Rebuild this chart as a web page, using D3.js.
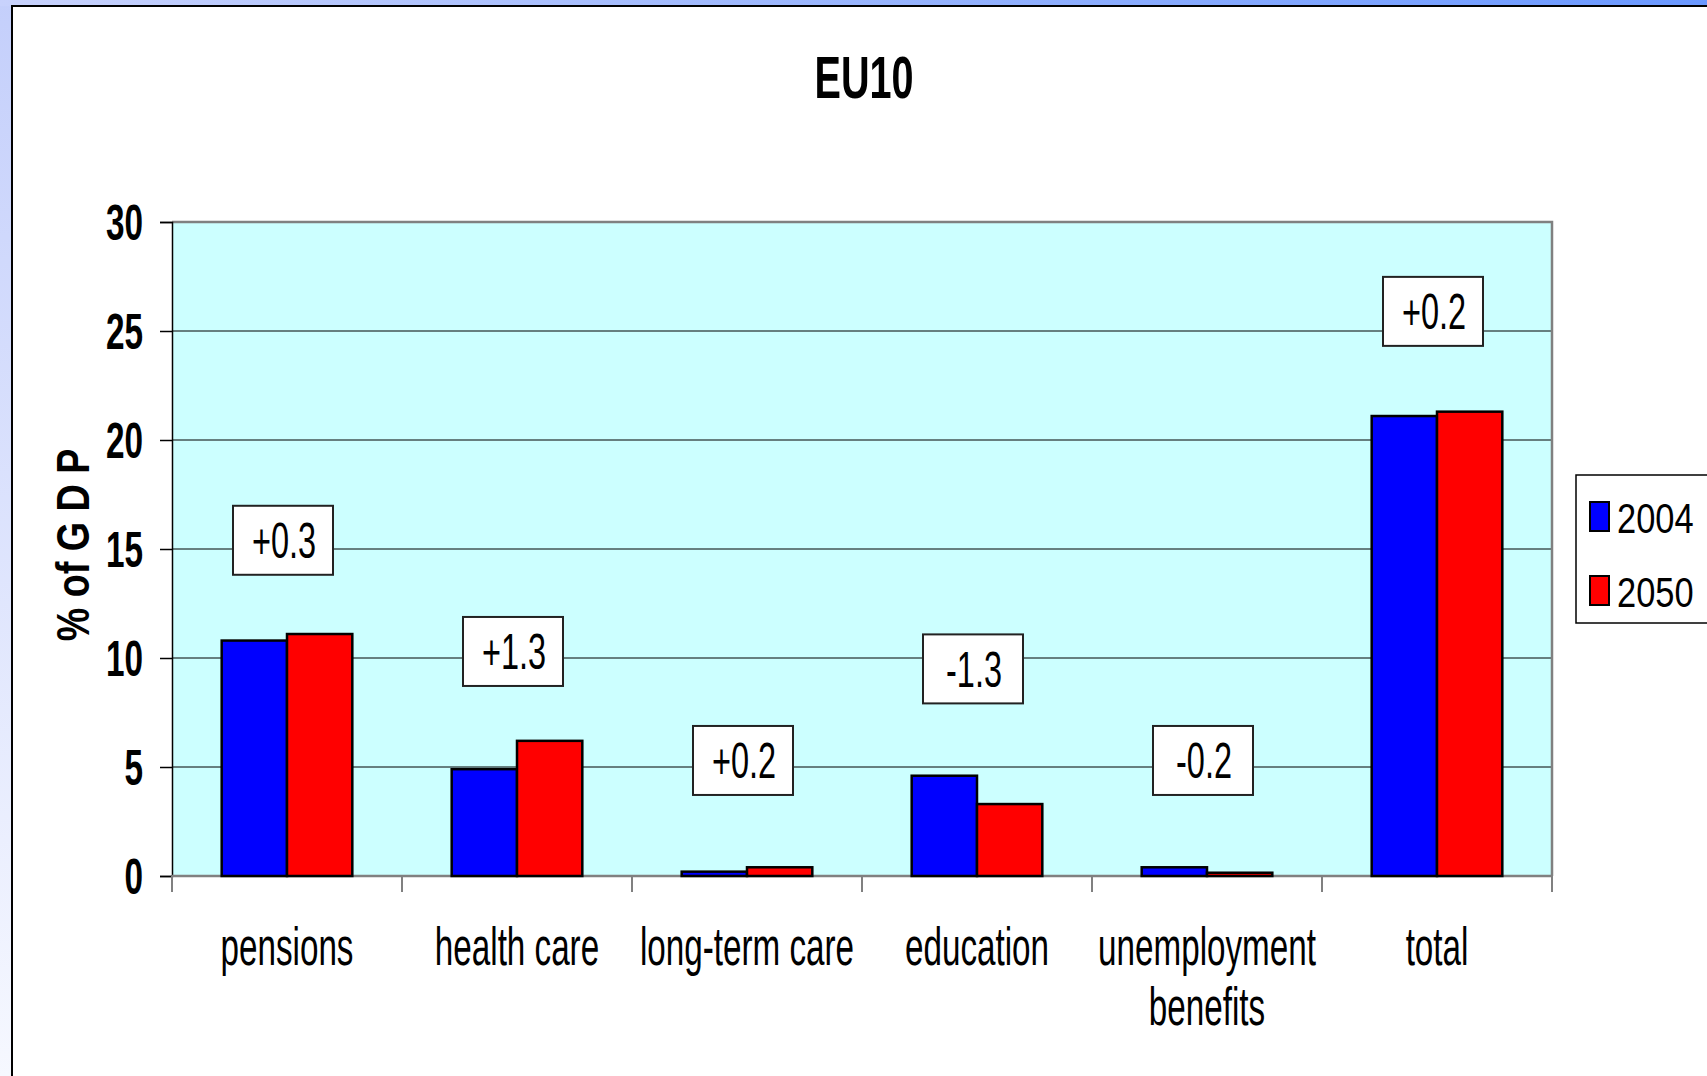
<!DOCTYPE html>
<html>
<head>
<meta charset="utf-8">
<script src="https://cdn.jsdelivr.net/npm/d3@7"></script>
<style>
  body { margin: 0; overflow: hidden; background: #fff; }
  text { font-family: "Liberation Sans", Arial, sans-serif; fill: #000; }
</style>
</head>
<body>
<script>
// data
var categories = ["pensions", "health care", "long-term care", "education", "unemployment benefits", "total"];
var catLines = [["pensions"], ["health care"], ["long-term care"], ["education"], ["unemployment", "benefits"], ["total"]];
var series = ["2004", "2050"];
var values2004 = [10.8, 4.9, 0.2, 4.6, 0.4, 21.1];
var values2050 = [11.1, 6.2, 0.4, 3.3, 0.15, 21.3];
var changeLabels = ["+0.3", "+1.3", "+0.2", "-1.3", "-0.2", "+0.2"];
var changeAnchor = [15.4, 10.3, 5.3, 9.5, 5.3, 25.9]; // value level of box centre
var yTicks = [0, 5, 10, 15, 20, 25, 30];
var colors = ["#0000ff", "#ff0000"];

// dimensions
var width = 1707;
var height = 1076;

var plot = { left: 172, right: 1552, top: 222, bottom: 876 };

var svg = d3.select("body")
    .append("svg")
    .attr("width", width)
    .attr("height", height);

var defs = svg.append("defs");
var gl = defs.append("linearGradient").attr("id", "leftg")
    .attr("x1", 0).attr("y1", 0).attr("x2", 0).attr("y2", 1);
gl.append("stop").attr("offset", "0%").attr("stop-color", "#c4cffb");
gl.append("stop").attr("offset", "100%").attr("stop-color", "#f6f8ff");
var gt = defs.append("linearGradient").attr("id", "topg")
    .attr("x1", 0).attr("y1", 0).attr("x2", 1).attr("y2", 0);
gt.append("stop").attr("offset", "0%").attr("stop-color", "#c8d2fc");
gt.append("stop").attr("offset", "100%").attr("stop-color", "#6a98ff");

// slide background
svg.append("rect").attr("width", 12).attr("height", height).attr("fill", "url(#leftg)");
svg.append("rect").attr("width", width).attr("height", 6).attr("fill", "url(#topg)");

// white chart frame
svg.append("rect")
    .attr("x", 12).attr("y", 6)
    .attr("width", width + 20).attr("height", height + 20)
    .attr("fill", "#fff")
    .attr("stroke", "#000")
    .attr("stroke-width", 2);

// scales
var x0 = d3.scaleBand().domain(categories).range([plot.left, plot.right]).padding(0);
var pad = x0.bandwidth() * 0.216;
var x1 = d3.scaleBand().domain(series).range([pad, x0.bandwidth() - pad]).padding(0);
var y = d3.scaleLinear().domain([0, 30]).range([plot.bottom, plot.top]);

// helper: condensed text
function ctext(g, tx, ty, sx, size, weight, anchor, str, rot) {
    var t = g.append("g")
        .attr("transform", "translate(" + tx + "," + ty + ")" + (rot ? " rotate(" + rot + ")" : "") + " scale(" + sx + ",1)");
    t.append("text")
        .attr("text-anchor", anchor)
        .style("font-size", size + "px")
        .style("font-weight", weight)
        .text(str);
    return t;
}

// plot background
svg.append("rect")
    .attr("x", plot.left).attr("y", plot.top)
    .attr("width", plot.right - plot.left).attr("height", plot.bottom - plot.top)
    .attr("fill", "#ccffff");

// gridlines
svg.append("g").selectAll("line")
    .data(yTicks.filter(function(d) { return d > 0 && d < 30; }))
    .enter().append("line")
    .attr("x1", plot.left).attr("x2", plot.right)
    .attr("y1", function(d) { return y(d); })
    .attr("y2", function(d) { return y(d); })
    .attr("stroke", "#000").attr("stroke-width", 1);

// plot border top / right (gray)
svg.append("path")
    .attr("d", "M" + plot.left + "," + plot.top + "H" + plot.right + "V" + plot.bottom)
    .attr("fill", "none").attr("stroke", "#808080").attr("stroke-width", 2.5);

// y axis
var yAxis = svg.append("g")
    .attr("transform", "translate(" + plot.left + ",0)")
    .call(d3.axisLeft(y).tickValues(yTicks).tickSize(12).tickFormat(""));
yAxis.select(".domain").attr("stroke", "#000").attr("stroke-width", 1.5);
yAxis.selectAll(".tick line").attr("stroke", "#000").attr("stroke-width", 1.5);

yTicks.forEach(function(d) {
    ctext(svg, 143, y(d) + 17.5, 0.68, 49, "bold", "end", String(d));
});

// x axis (gray) with boundary ticks
svg.append("line")
    .attr("x1", plot.left).attr("x2", plot.right)
    .attr("y1", plot.bottom).attr("y2", plot.bottom)
    .attr("stroke", "#808080").attr("stroke-width", 2.5);
var bounds = categories.map(function(c) { return x0(c); }).concat([plot.right]);
svg.append("g").selectAll("line")
    .data(bounds)
    .enter().append("line")
    .attr("x1", function(d) { return d; }).attr("x2", function(d) { return d; })
    .attr("y1", plot.bottom).attr("y2", plot.bottom + 16)
    .attr("stroke", "#808080").attr("stroke-width", 2);

// bars
var rows = categories.map(function(c, i) {
    return { cat: c, vals: [values2004[i], values2050[i]] };
});
var groups = svg.append("g").selectAll("g")
    .data(rows)
    .enter().append("g")
    .attr("transform", function(d) { return "translate(" + x0(d.cat) + ",0)"; });
groups.selectAll("rect")
    .data(function(d) { return d.vals.map(function(v, j) { return { s: series[j], v: v, j: j }; }); })
    .enter().append("rect")
    .attr("x", function(d) { return x1(d.s); })
    .attr("y", function(d) { return y(d.v); })
    .attr("width", x1.bandwidth())
    .attr("height", function(d) { return y(0) - y(d.v); })
    .attr("fill", function(d) { return colors[d.j]; })
    .attr("stroke", "#000")
    .attr("stroke-width", 2.5);

// change boxes
categories.forEach(function(c, i) {
    var cx = x0(c) + x0.bandwidth() / 2 - 4;
    var cy = y(changeAnchor[i]);
    svg.append("rect")
        .attr("x", cx - 50).attr("y", cy - 34.5)
        .attr("width", 100).attr("height", 69)
        .attr("fill", "#fff")
        .attr("stroke", "#222").attr("stroke-width", 2);
    ctext(svg, cx + 1, cy + 18, 0.65, 50, "normal", "middle", changeLabels[i]);
});

// category labels
categories.forEach(function(c, i) {
    var cx = x0(c) + x0.bandwidth() / 2;
    catLines[i].forEach(function(line, k) {
        ctext(svg, cx, 965 + k * 60, 0.615, 54, "normal", "middle", line);
    });
});

// title
ctext(svg, (plot.left + plot.right) / 2 + 2, 98, 0.66, 60, "bold", "middle", "EU10");

// y axis title
ctext(svg, 89, 545, 0.82, 46, "bold", "middle", "% of G D P", -90);

// legend
svg.append("rect")
    .attr("x", 1576).attr("y", 475)
    .attr("width", 200).attr("height", 148)
    .attr("fill", "#fff").attr("stroke", "#000").attr("stroke-width", 1.5);
series.forEach(function(s, j) {
    var top = 502 + j * 74;
    svg.append("rect")
        .attr("x", 1590).attr("y", top)
        .attr("width", 19).attr("height", 29)
        .attr("fill", colors[j]).attr("stroke", "#000").attr("stroke-width", 2);
    ctext(svg, 1617, top + 30.5, 0.82, 42, "normal", "start", s);
});
</script>
</body>
</html>
